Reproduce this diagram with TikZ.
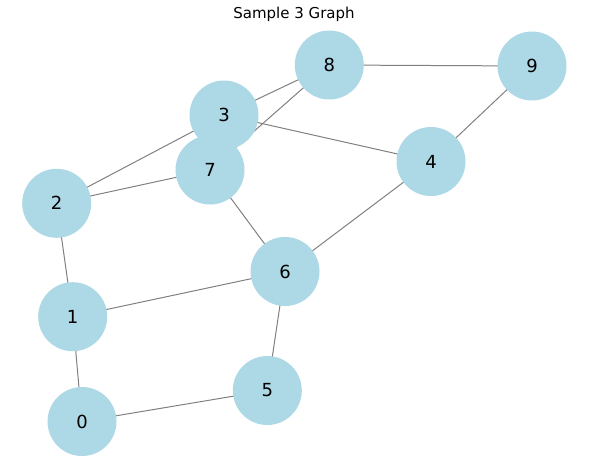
\documentclass[tikz,border=0pt]{standalone}
\usepackage{fontspec}
\setmainfont{DejaVu Sans}
\definecolor{nodeblue}{HTML}{ADD8E6}
\definecolor{edgegray}{HTML}{808080}
\begin{document}
\begin{tikzpicture}[x=1pt,y=-1pt,
  gnode/.style={circle,fill=nodeblue,minimum size=69pt,inner sep=0pt,font=\fontsize{18}{18}\selectfont},
  gedge/.style={draw=edgegray,line width=1pt}]
\useasboundingbox (0,0) rectangle (612,468);
\node[font=\fontsize{15}{16}\selectfont] (title) at (294,14) {Sample 3 Graph};
% node positions
\coordinate (p0) at (82,421.5);
\coordinate (p1) at (72.7,316.7);
\coordinate (p2) at (56.7,203.3);
\coordinate (p3) at (224,115);
\coordinate (p4) at (431,161.5);
\coordinate (p5) at (267.3,390.5);
\coordinate (p6) at (285,271.5);
\coordinate (p7) at (210,170);
\coordinate (p8) at (329.3,65);
\coordinate (p9) at (532,66);
% edges
\foreach \a/\b in {8/9,9/4,3/4,3/2,3/8,7/8,2/7,2/1,7/6,4/6,1/6,1/0,0/5,5/6}
  \draw[gedge] (p\a) -- (p\b);
% nodes
\foreach \i in {0,...,9}
  \node[gnode] (n\i) at (p\i) {\i};
\end{tikzpicture}
\end{document}
